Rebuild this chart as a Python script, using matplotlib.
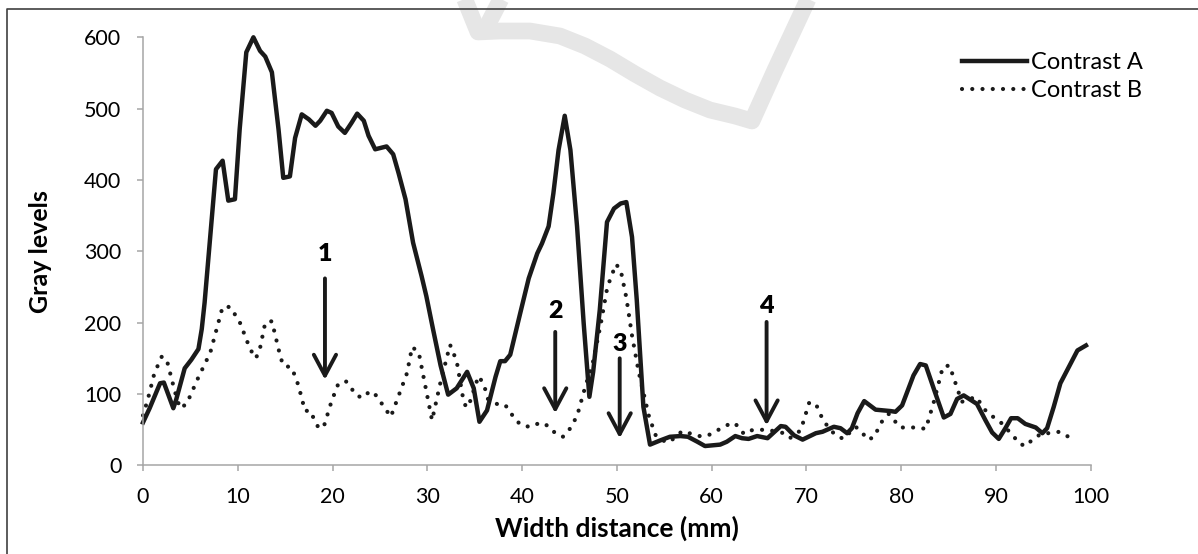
import matplotlib
matplotlib.use("Agg")
import matplotlib.pyplot as plt

plt.rcParams['font.family'] = ['Lato', 'DejaVu Sans']

# Contrast A (solid)
a_x = [0, 0.7, 1.8, 2.2, 3.2, 3.5, 4.4, 5.1, 5.85, 6.2, 6.5, 7.25, 7.7, 8.4, 9.0, 9.7,
       10.2, 10.9, 11.65, 12.35, 12.9, 13.6, 14.3, 14.8, 15.5, 16.05, 16.75, 17.5, 18.2,
       18.7, 19.4, 19.9, 20.6, 21.3, 22.0, 22.6, 23.3, 23.8, 24.5, 25.7, 26.4, 26.96,
       27.7, 28.5, 29.4, 29.9, 30.6, 31.4, 32.2, 33.1, 34.2, 34.9, 35.5, 36.3, 37.2,
       37.7, 38.2, 38.75, 39.8, 40.7, 41.6, 42.1, 42.8, 43.3, 43.85, 44.5, 45.1, 45.8,
       46.5, 47.1, 47.5, 48.2, 48.96, 49.7, 50.4, 51.0, 51.6, 52.1, 52.8, 53.5, 54.6,
       55.6, 56.7, 57.5, 58.5, 59.3, 60.9, 61.6, 62.5, 63.2, 63.9, 64.8, 65.9, 67.3,
       67.8, 68.7, 69.6, 71.0, 71.7, 72.9, 73.6, 74.3, 74.8, 75.4, 76.1, 77.3, 78.9,
       79.4, 80.1, 81.3, 82.0, 82.6, 83.45, 84.5, 85.2, 85.9, 86.6, 88.0, 88.9, 89.6,
       90.3, 91.0, 91.6, 92.3, 93.1, 94.2, 94.9, 95.4, 96.1, 96.8, 97.5, 98.6, 99.5]
a_y = [60, 80, 115, 116, 80, 92, 136, 148, 163, 191, 228, 345, 415, 427, 371, 373,
       471, 579, 600, 581, 573, 551, 471, 403, 405, 459, 492, 485, 476,
       483, 497, 494, 475, 466, 480, 493, 483, 462, 443, 447, 436, 410,
       373, 312, 265, 237, 191, 140, 99, 108, 131, 108, 61, 77, 124,
       146, 146, 155, 213, 262, 297, 311, 335, 381, 442, 490, 442, 335,
       199, 96, 131, 218, 341, 360, 367, 369, 320, 232, 82, 29, 35,
       40, 41, 40, 33, 27, 29, 33, 41, 38, 37, 41, 38, 55,
       54, 42, 36, 45, 47, 54, 52, 45, 52, 73, 90, 78, 76,
       75, 84, 126, 142, 140, 107, 67, 72, 93, 98, 86, 63, 46,
       37, 52, 66, 66, 58, 53, 45, 52, 82, 115, 133, 161, 168]

# Contrast B (dotted)
b_x = [0, 0.5, 1.2, 2.0, 2.6, 3.35, 3.9, 4.6, 5.8, 7.1, 8.4, 9.2, 10.2, 11.3, 11.9,
       12.3, 12.9, 13.6, 14.5, 14.8, 15.7, 16.4, 17.1, 17.6, 18.5, 19.05, 19.9, 20.6,
       21.4, 22.6, 23.3, 23.9, 24.6, 26.15, 27.85, 28.4, 29.1, 30.5, 31.35, 32.4, 33.1,
       33.8, 34.1, 34.5, 35.4, 35.95, 36.4, 37.35, 38.2, 39.4, 40.15, 41.0, 41.9, 42.8,
       43.5, 44.3, 44.9, 45.8, 46.6, 47.5, 48.3, 49.0, 49.9, 50.4, 51.0, 51.6, 52.3,
       53.4, 54.1, 54.8, 55.5, 56.9, 58.65, 59.5, 61.3, 62.2, 62.8, 63.4, 64.1, 65.7,
       67.4, 68.25, 69.4, 70.3, 71.0, 71.8, 73.0, 73.9, 75.2, 75.9, 76.4, 77.1, 78.0,
       78.7, 79.9, 81.7, 82.6, 83.45, 84.4, 85.1, 86.4, 87.9, 89.0, 90.6, 91.9, 92.5,
       93.2, 93.9, 94.9, 95.7, 96.7, 97.5, 98.4]
b_y = [70, 92, 129, 153, 143, 104, 80, 86, 122, 158, 222, 222, 201, 163, 150,
       161, 200, 202, 152, 140, 137, 112, 76, 77, 53, 53, 90, 114,
       118, 97, 95, 104, 98, 68, 129, 166, 158, 63, 114, 169, 146,
       92, 81, 89, 125, 114, 93, 86, 85, 62, 55, 54, 60, 55,
       45, 40, 48, 69, 107, 146, 198, 250, 282, 274, 235, 182, 131,
       68, 42, 35, 32, 48, 41, 41, 54, 60, 55, 44, 49, 50,
       46, 38, 49, 88, 86, 62, 43, 37, 54, 46, 36, 39, 62,
       72, 53, 53, 51, 89, 138, 140, 89, 96, 75, 59, 40, 30,
       27, 37, 45, 45, 47, 41, 36]

# numbered arrows: label, x, label y, arrow start y, arrow tip y
marks = ["1", "2", "3", "4"]
mark_x = [19.2, 43.5, 50.3, 65.8]
mark_text_y = [296, 216, 170, 224]
mark_from_y = [262, 187, 150, 201]
mark_to_y = [120, 73, 38, 56]

W, H = 1198, 554
fig = plt.figure(figsize=(W / 100, H / 100), dpi=100)

# light grey watermark stroke behind the chart (pixel coords)
bg = fig.add_axes([0, 0, 1, 1], zorder=0)
bg.set_xlim(0, W)
bg.set_ylim(H, 0)
bg.axis('off')
wm_x = [463, 478, 500, 530, 560, 585, 610, 635, 660, 685, 710, 735, 752, 775, 810]
wm_y = [-5, 32, 31, 31, 36, 46, 59, 74, 88, 100, 110, 116, 121, 70, -5]
bg.plot(wm_x, wm_y, color='#e6e6e6', lw=12, solid_joinstyle='round', solid_capstyle='butt')
bg.plot([503, 486], [-5, 28], color='#e6e6e6', lw=12, solid_capstyle='butt')
# frame edges visible in the crop
bg.plot([7, 7, W + 5], [H + 5, 9, 9], color='#404040', lw=1.2)

ax = fig.add_axes([143 / W, 1 - 465.3 / H, (1090.7 - 143) / W, (465.3 - 37.3) / H], zorder=1)
ax.patch.set_alpha(0)

ax.plot(a_x, a_y, color='#1a1a1a', lw=3.2, label='Contrast A', clip_on=False,
        solid_joinstyle='round')
ax.plot(b_x, b_y, color='#1a1a1a', lw=3.0, linestyle=(0, (0.01, 2.45)),
        dash_capstyle='round', label='Contrast B', clip_on=False)

for m, x, ty, fy, toy in zip(marks, mark_x, mark_text_y, mark_from_y, mark_to_y):
    ax.text(x, ty, m, ha='center', va='center', fontsize=18, fontweight='heavy')
    ax.annotate('', xy=(x, toy), xytext=(x, fy),
                arrowprops=dict(arrowstyle='->, head_length=0.75, head_width=0.4',
                                color='#1a1a1a', lw=2.8, mutation_scale=20,
                                shrinkA=0, shrinkB=0))

ax.set_xlim(0, 100)
ax.set_ylim(0, 600)
ax.set_xticks(range(0, 101, 10))
ax.set_yticks(range(0, 601, 100))
for s in ['top', 'right']:
    ax.spines[s].set_visible(False)
for s in ['left', 'bottom']:
    ax.spines[s].set_color('#a6a6a6')
    ax.spines[s].set_linewidth(1.1)
ax.tick_params(direction='out', length=4.5, width=1.1, color='#a6a6a6',
               labelsize=15.5, labelcolor='black')
ax.tick_params(axis='x', pad=11)
ax.tick_params(axis='y', pad=11)

fig.text(40 / W, 1 - 252 / H, 'Gray levels', rotation=90, ha='center', va='center',
         fontsize=18, fontweight='bold')
fig.text(617 / W, 1 - 528 / H, 'Width distance (mm)', ha='center', va='center',
         fontsize=19, fontweight='bold')

ax.legend(loc='upper left', bbox_to_anchor=(950 / W, 1 - 40 / H),
          bbox_transform=fig.transFigure, frameon=False, fontsize=17,
          handlelength=2.75, handletextpad=0.2, labelspacing=0.3, borderpad=0)

fig.savefig('out.png', dpi=100)
